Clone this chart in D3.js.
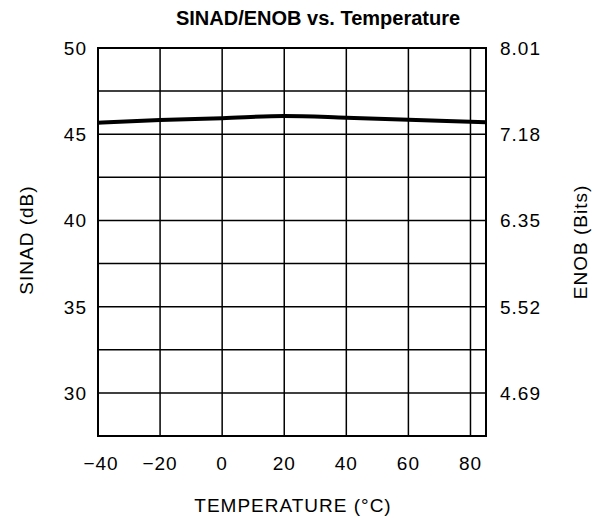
<!DOCTYPE html>
<html>
<head>
<meta charset="utf-8">
<script src="https://cdn.jsdelivr.net/npm/d3@7"></script>
<style>
  body { margin: 0; background: #fff; }
  svg text { fill: #000; }
</style>
</head>
<body>
<div id="chart"></div>
<script>
// data
const temps = [-40, -20, 0, 20, 40, 60, 85];
const sinad = [45.67, 45.83, 45.93, 46.06, 45.96, 45.84, 45.69];
const xTicks = [-40, -20, 0, 20, 40, 60, 80];
const yTicks = [30, 35, 40, 45, 50];
const yGrid = [30, 32.5, 35, 37.5, 40, 42.5, 45, 47.5, 50];
const enobLabels = ["4.69", "5.52", "6.35", "7.18", "8.01"];

const width = 594, height = 520;
const margin = { top: 48, right: 108, bottom: 84, left: 98 };

const svg = d3.select("#chart").append("svg")
    .attr("width", width)
    .attr("height", height);

const x = d3.scaleLinear().domain([-40, 85]).range([margin.left, width - margin.right]);
const y = d3.scaleLinear().domain([27.5, 50]).range([height - margin.bottom, margin.top]);

const labelFont = "'Liberation Sans', Arial, sans-serif";

// grid
svg.append("g").selectAll("line")
    .data(yGrid)
    .enter().append("line")
    .attr("x1", x(-40)).attr("x2", x(85))
    .attr("y1", d => y(d)).attr("y2", d => y(d))
    .attr("stroke", "#000").attr("stroke-width", 1.5);

svg.append("g").selectAll("line")
    .data(xTicks.filter(d => d > -40))
    .enter().append("line")
    .attr("x1", d => x(d)).attr("x2", d => x(d))
    .attr("y1", y(27.5)).attr("y2", y(50))
    .attr("stroke", "#000").attr("stroke-width", 1.5);

// frame
svg.append("rect")
    .attr("x", x(-40)).attr("y", y(50))
    .attr("width", x(85) - x(-40)).attr("height", y(27.5) - y(50))
    .attr("fill", "none").attr("stroke", "#000").attr("stroke-width", 2);

// curve
const line = d3.line()
    .x((d, i) => x(temps[i]))
    .y(d => y(d))
    .curve(d3.curveMonotoneX);

svg.append("path")
    .datum(sinad)
    .attr("d", line)
    .attr("fill", "none")
    .attr("stroke", "#000")
    .attr("stroke-width", 4);

function label(sel) {
    return sel.attr("dy", "0.36em")
        .style("font-family", labelFont)
        .style("font-size", "19px")
        .style("letter-spacing", "1px");
}

// left tick labels
svg.append("g").selectAll("text")
    .data(yTicks)
    .enter().append("text")
    .attr("x", 87)
    .attr("y", d => y(d))
    .attr("text-anchor", "end")
    .call(label)
    .text(d => d);

// right tick labels (ENOB)
svg.append("g").selectAll("text")
    .data(yTicks)
    .enter().append("text")
    .attr("x", 500)
    .attr("y", d => y(d))
    .attr("text-anchor", "start")
    .call(label)
    .text((d, i) => enobLabels[i]);

// bottom tick labels
svg.append("g").selectAll("text")
    .data(xTicks)
    .enter().append("text")
    .attr("x", d => x(d) + (d === -40 ? 3 : 0))
    .attr("y", 463)
    .attr("text-anchor", "middle")
    .call(label)
    .text(d => d < 0 ? "\u2212" + Math.abs(d) : d);

// axis titles
svg.append("text")
    .attr("x", 293).attr("y", 505)
    .attr("text-anchor", "middle")
    .call(label)
    .text("TEMPERATURE (\u00B0C)");

svg.append("text")
    .attr("transform", "translate(26,240) rotate(-90)")
    .attr("text-anchor", "middle")
    .call(label)
    .text("SINAD (dB)");

svg.append("text")
    .attr("transform", "translate(580,242) rotate(-90)")
    .attr("text-anchor", "middle")
    .call(label)
    .text("ENOB (Bits)");

// title
svg.append("text")
    .attr("x", 318).attr("y", 18)
    .attr("dy", "0.36em")
    .attr("text-anchor", "middle")
    .style("font-family", labelFont)
    .style("font-weight", "bold")
    .style("font-size", "20px")
    .text("SINAD/ENOB vs. Temperature");
</script>
</body>
</html>
